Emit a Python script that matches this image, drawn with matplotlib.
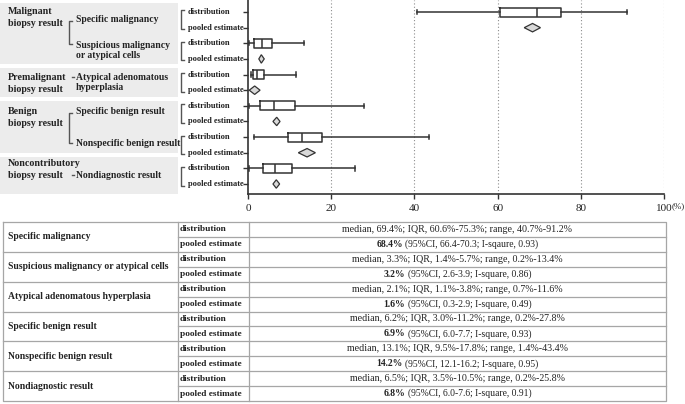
import matplotlib
matplotlib.use("Agg")
import matplotlib.pyplot as plt
from matplotlib.patches import Polygon, Rectangle
from matplotlib.transforms import blended_transform_factory

plt.rcParams['font.family'] = ['Liberation Serif', 'DejaVu Serif']

# ---- data ----
results = ["Specific malignancy", "Suspicious malignancy or atypical cells",
           "Atypical adenomatous hyperplasia", "Specific benign result",
           "Nonspecific benign result", "Nondiagnostic result"]
plot_labels = ["Specific malignancy", "Suspicious malignancy\nor atypical cells",
               "Atypical adenomatous\nhyperplasia", "Specific benign result",
               "Nonspecific benign result", "Nondiagnostic result"]
groups = ["Malignant\nbiopsy result", "Premalignant\nbiopsy result",
          "Benign\nbiopsy result", "Noncontributory\nbiopsy result"]
group_members = [[0, 1], [2], [3, 4], [5]]
row_names = ["distribution", "pooled estimate"]

median = [69.4, 3.3, 2.1, 6.2, 13.1, 6.5]
q1 = [60.6, 1.4, 1.1, 3.0, 9.5, 3.5]
q3 = [75.3, 5.7, 3.8, 11.2, 17.8, 10.5]
rmin = [40.7, 0.2, 0.7, 0.2, 1.4, 0.2]
rmax = [91.2, 13.4, 11.6, 27.8, 43.4, 25.8]
pooled = [68.4, 3.2, 1.6, 6.9, 14.2, 6.8]
ci_lo = [66.4, 2.6, 0.3, 6.0, 12.1, 6.0]
ci_hi = [70.3, 3.9, 2.9, 7.7, 16.2, 7.6]
i2 = [0.93, 0.86, 0.49, 0.93, 0.95, 0.91]
i2_name = ["I-sqaure", "I-square", "I-square", "I-square", "I-square", "I-square"]
xticks = [0, 20, 40, 60, 80, 100]

# ---- layout (pixels, figure is 685x404 at dpi 100) ----
W, H = 685, 404
AX_L, AX_R, AX_T, AX_B = 248, 664, 0, 194
GRAY = '#ececec'
INK = '#222222'
LINE = '#333333'
TAB = '#a6a6a6'

fig = plt.figure(figsize=(W / 100, H / 100), dpi=100)
ov = fig.add_axes([0, 0, 1, 1])
ov.set_xlim(0, W)
ov.set_ylim(H, 0)
ov.axis('off')

ax = fig.add_axes([AX_L / W, (H - AX_B) / H, (AX_R - AX_L) / W, (AX_B - AX_T) / H])
ax.set_facecolor('none')

n = len(results)
dist_pos = [2 * i for i in range(n)]
pool_pos = [2 * i + 1 for i in range(n)]

stats = [dict(med=median[i], q1=q1[i], q3=q3[i], whislo=rmin[i], whishi=rmax[i])
         for i in range(n)]
lw = 1.1
ax.bxp(stats, positions=dist_pos, orientation='horizontal', widths=0.58,
       showfliers=False, capwidths=0.28, manage_ticks=False,
       boxprops=dict(color=LINE, linewidth=lw),
       medianprops=dict(color=LINE, linewidth=lw),
       whiskerprops=dict(color=LINE, linewidth=lw),
       capprops=dict(color=LINE, linewidth=lw))

dh = 0.27
for i in range(n):
    y = pool_pos[i]
    ax.add_patch(Polygon([(ci_lo[i], y), (pooled[i], y - dh), (ci_hi[i], y), (pooled[i], y + dh)],
                         closed=True, facecolor='#d9d9d9', edgecolor=LINE, linewidth=0.9, zorder=3))

ax.set_xlim(0, 100)
ax.set_ylim(2 * n - 1 + 0.64, -0.77)
for x in xticks[1:]:
    ax.axvline(x, color='#8c8c8c', linestyle=(0, (1, 2)), linewidth=0.8, zorder=0)
ax.set_xticks(xticks)
ax.set_xticklabels([str(x) for x in xticks], fontsize=8, color=INK)
ax.set_yticks(dist_pos + pool_pos)
ax.set_yticklabels([])
ax.tick_params(axis='both', direction='out', length=3.5, width=1.0, color=LINE, pad=3.5)
for s in ['top', 'right']:
    ax.spines[s].set_visible(False)
for s in ['left', 'bottom']:
    ax.spines[s].set_color(LINE)
    ax.spines[s].set_linewidth(1.2)
ov.text(672, 206, "(%)", fontsize=6.5, color=INK, va='center', ha='left')

# ---- left label panel ----
rowtr = blended_transform_factory(ov.transData, ax.transData)
group_box = [(3, 64), (68, 97), (101, 153), (157, 194)]
group_text_y = [12, 77, 112, 163]
sub_y = [20, 45, 77, 112, 144, 175]
for g, (y0, y1) in enumerate(group_box):
    ov.add_patch(Rectangle((0, y0), 178, y1 - y0, facecolor=GRAY, edgecolor='none'))
    lines = groups[g].split('\n')
    ov.text(8, group_text_y[g], lines[0], fontsize=7.2, fontweight='bold', color=INK, va='center')
    ov.text(8, group_text_y[g] + 12, lines[1], fontsize=7.2, fontweight='bold', color=INK, va='center')
    members = group_members[g]
    if len(members) > 1:
        ya, yb = sub_y[members[0]] + 1, sub_y[members[-1]] - 1
        ov.plot([72, 69.5, 69.5, 72], [ya, ya, yb, yb], color='#555555', lw=1.0)
    else:
        ov.plot([72, 74.5], [sub_y[members[0]]] * 2, color='#555555', lw=1.0)

for i in range(n):
    parts = plot_labels[i].split('\n')
    for k, p in enumerate(parts):
        ov.text(76, sub_y[i] + 11 * k, p, fontsize=6.9, fontweight='bold', color=INK, va='center')
    for k, pos in enumerate([dist_pos[i], pool_pos[i]]):
        ov.text(188, pos, row_names[k], fontsize=6.0, fontweight='bold', color=INK,
                va='center', ha='left', transform=rowtr)
    ov.plot([184, 181.5, 181.5, 184],
            [dist_pos[i] - 0.1, dist_pos[i] - 0.1, pool_pos[i] + 0.1, pool_pos[i] + 0.1],
            color='#555555', lw=1.0, transform=rowtr)

# ---- table ----
T_TOP, T_BOT = 222, 401
C0, C1, C2, C3 = 3, 178, 249, 666
rh = (T_BOT - T_TOP) / (2 * n)
tl = dict(color=TAB, lw=0.9)
ov.plot([C0, C3, C3, C0, C0], [T_TOP, T_TOP, T_BOT, T_BOT, T_TOP], **tl)
ov.plot([C1, C1], [T_TOP, T_BOT], **tl)
ov.plot([C2, C2], [T_TOP, T_BOT], **tl)
for i in range(1, 2 * n):
    y = T_TOP + i * rh
    ov.plot([C0 if i % 2 == 0 else C1, C3], [y, y], **tl)

fig.canvas.draw()
rend = fig.canvas.get_renderer()
fs1, fs2, fs3, fs4 = 6.9, 6.7, 7.2, 6.9
for i in range(n):
    yd = T_TOP + (2 * i + 0.5) * rh
    yp = T_TOP + (2 * i + 1.5) * rh
    ov.text(C0 + 5, T_TOP + (2 * i + 1) * rh, results[i], fontsize=fs1, fontweight='bold',
            color=INK, va='center')
    ov.text(C1 + 2, yd, row_names[0], fontsize=fs2, fontweight='bold', color=INK, va='center')
    ov.text(C1 + 2, yp, row_names[1], fontsize=fs2, fontweight='bold', color=INK, va='center')
    cx = (C2 + C3) / 2
    ov.text(cx, yd, "median, %.1f%%; IQR, %.1f%%-%.1f%%; range, %.1f%%-%.1f%%"
            % (median[i], q1[i], q3[i], rmin[i], rmax[i]),
            fontsize=fs3, color=INK, va='center', ha='center')
    t1 = ov.text(cx, yp, "%.1f%%" % pooled[i], fontsize=fs4, fontweight='bold', color=INK,
                 va='center', ha='left')
    t2 = ov.text(cx, yp, "(95%%CI, %.1f-%.1f; %s, %.2f)" % (ci_lo[i], ci_hi[i], i2_name[i], i2[i]),
                 fontsize=fs4, color=INK, va='center', ha='left')
    w1 = t1.get_window_extent(rend).width
    w2 = t2.get_window_extent(rend).width
    gap = fs4 * 0.25 * 100 / 72
    x0 = cx - (w1 + gap + w2) / 2
    t1.set_x(x0)
    t2.set_x(x0 + w1 + gap)

fig.savefig("out.png", dpi=100, facecolor='white')
